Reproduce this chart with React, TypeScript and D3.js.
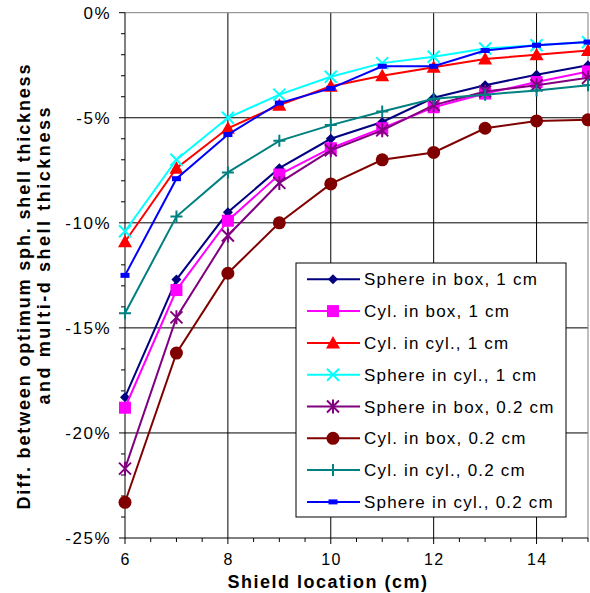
import React from 'react';
import * as d3 from 'd3';

// shield location (cm)
const xValues = [6, 7, 8, 9, 10, 11, 12, 13, 14, 15];

const seriesNames = [
    'Sphere in box, 1 cm',
    'Cyl. in box, 1 cm',
    'Cyl. in cyl., 1 cm',
    'Sphere in cyl., 1 cm',
    'Sphere in box, 0.2 cm',
    'Cyl. in box, 0.2 cm',
    'Cyl. in cyl., 0.2 cm',
    'Sphere in cyl., 0.2 cm',
];

// % difference, one array per series
const sphereBox1 = [-18.3, -12.7, -9.5, -7.4, -6.0, -5.2, -4.05, -3.45, -2.95, -2.5];
const cylBox1 = [-18.8, -13.2, -9.9, -7.7, -6.45, -5.5, -4.5, -3.85, -3.3, -2.8];
const cylCyl1 = [-10.9, -7.4, -5.5, -4.4, -3.5, -3.0, -2.6, -2.2, -2.0, -1.8];
const sphereCyl1 = [-10.4, -7.0, -5.0, -3.9, -3.05, -2.4, -2.1, -1.7, -1.55, -1.4];
const sphereBox02 = [-21.7, -14.5, -10.6, -8.1, -6.55, -5.6, -4.4, -3.75, -3.45, -3.1];
const cylBox02 = [-23.3, -16.2, -12.4, -10.0, -8.15, -7.0, -6.65, -5.5, -5.15, -5.1];
const cylCyl02 = [-14.3, -9.7, -7.6, -6.1, -5.35, -4.7, -4.1, -3.9, -3.7, -3.45];
const sphereCyl02 = [-12.5, -7.9, -5.8, -4.3, -3.6, -2.55, -2.55, -1.8, -1.55, -1.4];

const seriesValues = [sphereBox1, cylBox1, cylCyl1, sphereCyl1, sphereBox02, cylBox02, cylCyl02, sphereCyl02];
const colors = ['#000080', '#FF00FF', '#FF0000', '#00FFFF', '#800080', '#800000', '#008080', '#0000FF'];
const markers = ['diamond', 'square', 'triangle', 'x', 'asterisk', 'circle', 'plus', 'dash'];

const xTicks = [6, 8, 10, 12, 14];
const yTicks = [0, -5, -10, -15, -20, -25];

const font = '"Liberation Sans", Arial, sans-serif';

const Marker = ({ type, x, y, color }: { type: string; x: number; y: number; color: string }) => {
    switch (type) {
        case 'diamond':
            return <path d={`M${x},${y - 5}L${x + 5},${y}L${x},${y + 5}L${x - 5},${y}Z`} fill={color} />;
        case 'square':
            return <rect x={x - 6} y={y - 6} width={12} height={12} fill={color} />;
        case 'triangle':
            return <path d={`M${x},${y - 7}L${x + 7},${y + 5.5}L${x - 7},${y + 5.5}Z`} fill={color} />;
        case 'x':
            return <path d={`M${x - 6},${y - 6}L${x + 6},${y + 6}M${x + 6},${y - 6}L${x - 6},${y + 6}`} stroke={color} strokeWidth={2} />;
        case 'asterisk':
            return <path d={`M${x - 6},${y - 6}L${x + 6},${y + 6}M${x + 6},${y - 6}L${x - 6},${y + 6}M${x},${y - 7}L${x},${y + 7}`} stroke={color} strokeWidth={2} />;
        case 'circle':
            return <circle cx={x} cy={y} r={6.5} fill={color} />;
        case 'plus':
            return <path d={`M${x - 6},${y}L${x + 6},${y}M${x},${y - 6}L${x},${y + 6}`} stroke={color} strokeWidth={2} />;
        case 'dash':
            return <rect x={x - 4.5} y={y - 2.5} width={9} height={5} fill={color} />;
        default:
            return null;
    }
};

const App = () => {
    const width = 590;
    const height = 593;
    const left = 125, right = 588, top = 12.7, bottom = 538;

    const x = d3.scaleLinear().domain([6, 15]).range([left, right]);
    const y = d3.scaleLinear().domain([-25, 0]).range([bottom, top]);

    const line = d3.line<number>()
        .x((_, i) => x(xValues[i]))
        .y(d => y(d));

    const xMinor = d3.range(6, 15.01, 0.5);
    const yMinor = d3.range(-25, 0.01, 1);

    const legendX = 296, legendY = 263, legendW = 270, legendH = 254;
    const rowH = 31.8;

    return (
        <svg width={width} height={height} style={{ position: 'absolute', left: 0, top: 0 }} fontFamily={font}>
            <rect width={width} height={height} fill="#fff" />

            {/* grid */}
            {xTicks.filter(t => t > 6).map(t => (
                <line key={'gx' + t} x1={x(t)} x2={x(t)} y1={top} y2={bottom} stroke="#000" strokeWidth={1} />
            ))}
            {yTicks.filter(t => t < 0 && t > -25).map(t => (
                <line key={'gy' + t} x1={left} x2={right} y1={y(t)} y2={y(t)} stroke="#000" strokeWidth={1} />
            ))}
            <line x1={left} x2={right} y1={top} y2={top} stroke="#808080" strokeWidth={1} />
            <line x1={right} x2={right} y1={top} y2={bottom} stroke="#808080" strokeWidth={1} />

            {/* axes */}
            <line x1={left} x2={left} y1={top} y2={bottom} stroke="#000" strokeWidth={1} />
            <line x1={left} x2={right} y1={bottom} y2={bottom} stroke="#000" strokeWidth={1} />
            {xMinor.map(t => (
                <line key={'tx' + t} x1={x(t)} x2={x(t)} y1={bottom} y2={bottom + (t % 2 === 0 ? 6 : 4)} stroke="#000" />
            ))}
            {yMinor.map(t => (
                <line key={'ty' + t} x1={left} x2={left - (t % 5 === 0 ? 6 : 4)} y1={y(t)} y2={y(t)} stroke="#000" />
            ))}
            {xTicks.map(t => (
                <text key={'lx' + t} x={x(t) + 0.7} y={565} textAnchor="middle" fontSize={16} letterSpacing={1.4}>{t}</text>
            ))}
            {yTicks.map(t => (
                <text key={'ly' + t} x={111} y={y(t)} dy="0.35em" textAnchor="end" fontSize={17} letterSpacing={1.5}>{t + '%'}</text>
            ))}

            {/* series */}
            {seriesValues.map((vals, s) => (
                <g key={'s' + s}>
                    <path d={line(vals) || ''} fill="none" stroke={colors[s]} strokeWidth={2} />
                    {vals.map((v, i) => (
                        <Marker key={i} type={markers[s]} x={x(xValues[i])} y={y(v)} color={colors[s]} />
                    ))}
                </g>
            ))}

            {/* legend */}
            <rect x={legendX} y={legendY} width={legendW} height={legendH} fill="#fff" stroke="#000" strokeWidth={1} />
            {seriesNames.map((name, s) => {
                const cy = legendY + 16.3 + s * rowH;
                return (
                    <g key={'lg' + s}>
                        <line x1={307} x2={360} y1={cy} y2={cy} stroke={colors[s]} strokeWidth={2} />
                        <Marker type={markers[s]} x={333} y={cy} color={colors[s]} />
                        <text x={364} y={cy} dy="0.36em" fontSize={17} letterSpacing={1.2}>{name}</text>
                    </g>
                );
            })}

            {/* titles */}
            <text x={328} y={588} textAnchor="middle" fontSize={18} fontWeight="bold" letterSpacing={1.5}>Shield location (cm)</text>
            <text transform="translate(30,287) rotate(-90)" textAnchor="middle" fontSize={18} fontWeight="bold"
                textLength={445} lengthAdjust="spacing">Diff. between optimum sph. shell thickness</text>
            <text transform="translate(50,256) rotate(-90)" textAnchor="middle" fontSize={18} fontWeight="bold"
                textLength={297} lengthAdjust="spacing">and multi-d shell thickness</text>
        </svg>
    );
};

export default App;
